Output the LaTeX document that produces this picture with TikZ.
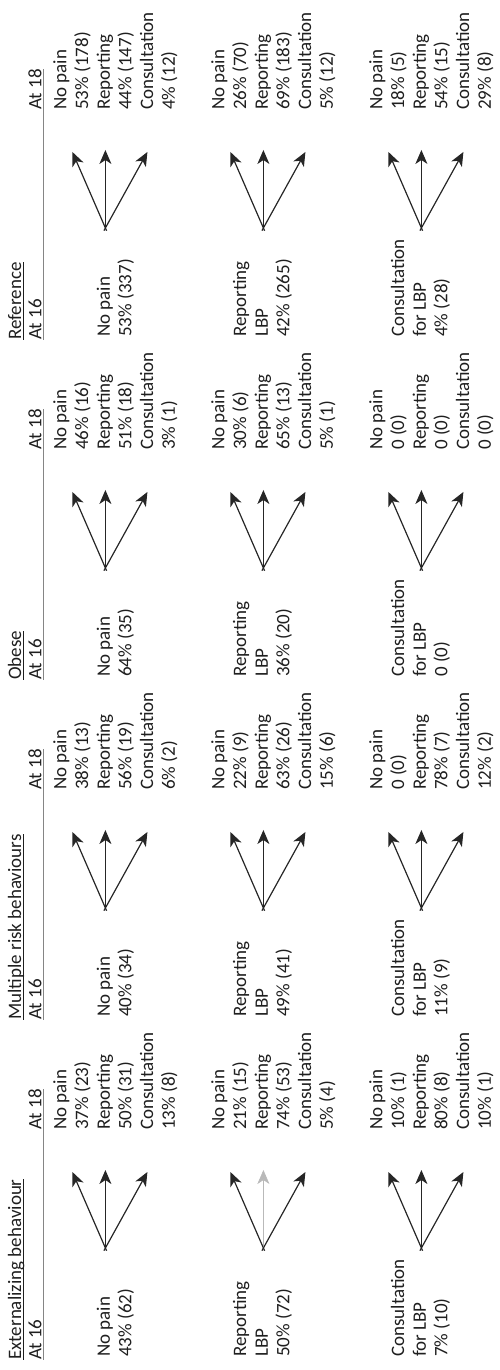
\documentclass[tikz,border=0pt]{standalone}
\usepackage{fontspec}
\setmainfont{Carlito}
\usetikzlibrary{arrows.meta,calc}

\definecolor{txt}{HTML}{1F1F1F}
\definecolor{ink}{HTML}{262626}
\definecolor{rulegray}{HTML}{858585}

\tikzset{
  lbl/.style={anchor=west, inner sep=0pt, text height=12.7pt, text depth=4pt,
              font=\fontsize{19}{22}\selectfont, text=txt},
  ttl/.style={lbl},
  hdr/.style={lbl},
  arr/.style={draw=ink, line width=1.2pt,
              -{Stealth[length=14pt,width=12pt,inset=4pt]}},
  faint/.style={draw=gray!55, line width=0.6pt},
  ul/.style={draw=txt, line width=0.9pt},
  hrule/.style={draw=rulegray, line width=1.4pt},
}

% header of one group: title, "At 16" / "At 18" and the rule below them
\newcommand\grouphead[3]{%
  \node[ttl] (#1-t) at (#2, -16.7) {#3};
  \node[hdr] (#1-16) at (#2, -37) {At 16};
  \node[hdr] (#1-18) at (#2+230, -37) {At 18};
  \draw[ul] ($(#1-t.base west)+(0,-2.3)$) -- ($(#1-t.base east)+(0,-2.3)$);
  \draw[hrule] ($(#1-16.south west)+(0,2)$) -- ($(#1-18.south east)+(0,2)$);
}

% one transition block: state at 16, three arrows, outcomes at 18
% #1 name, #2 group start, #3 first row, #4 first row of the state at 16,
% #5 state at 16, #6 outcomes at 18, #7 extra style of the middle arrow
\newcommand\tblock[7]{%
  \foreach \t [count=\k from 0] in {#6}
    \node[lbl] (#1-r\k) at (#2+230, {-(#3+21.7*\k)}) {\t};
  \foreach \t [count=\k from #4] in {#5}
    \node[lbl] (#1-s\k) at (#2+3, {-(#3+21.7*\k)}) {\t};
  \coordinate (#1-o) at (#2+112, {-(#3+43.4)});
  \coordinate (#1-a) at (#2+188, {-(#3+10.4)});
  \coordinate (#1-b) at (#2+190, {-(#3+43.4)});
  \coordinate (#1-c) at (#2+188, {-(#3+85.4)});
  \draw[arr, shorten <=-3pt] (#1-o) -- (#1-a);
  \draw[arr, #7] (#1-o) -- (#1-b);
  \draw[arr, shorten <=-3pt] (#1-o) -- (#1-c);
}

\begin{document}
\begin{tikzpicture}[x=1pt, y=1pt]
\useasboundingbox (0,0) rectangle (500,1370);
\begin{scope}[rotate=90, transform shape]

% Externalizing behaviour
\grouphead{ext}{10}{Externalizing behaviour}
\tblock{ext-a}{10}{62}{2}{No pain, 43\% (62)}
  {No pain, 37\% (23), Reporting, 50\% (31), Consultation, 13\% (8)}{}
\tblock{ext-b}{10}{220}{1}{Reporting, LBP, 50\% (72)}
  {No pain, 21\% (15), Reporting, 74\% (53), Consultation, 5\% (4)}{faint}
\tblock{ext-c}{10}{378}{1}{Consultation, for LBP, 7\% (10)}
  {No pain, 10\% (1), Reporting, 80\% (8), Consultation, 10\% (1)}{}

% Multiple risk behaviours
\grouphead{mrb}{350}{Multiple risk behaviours}
\tblock{mrb-a}{350}{62}{2}{No pain, 40\% (34)}
  {No pain, 38\% (13), Reporting, 56\% (19), Consultation, 6\% (2)}{}
\tblock{mrb-b}{350}{220}{1}{Reporting, LBP, 49\% (41)}
  {No pain, 22\% (9), Reporting, 63\% (26), Consultation, 15\% (6)}{}
\tblock{mrb-c}{350}{378}{1}{Consultation, for LBP, 11\% (9)}
  {No pain, 0 (0), Reporting, 78\% (7), Consultation, 12\% (2)}{}

% Obese
\grouphead{obs}{690}{Obese}
\tblock{obs-a}{690}{62}{2}{No pain, 64\% (35)}
  {No pain, 46\% (16), Reporting, 51\% (18), Consultation, 3\% (1)}{}
\tblock{obs-b}{690}{220}{1}{Reporting, LBP, 36\% (20)}
  {No pain, 30\% (6), Reporting, 65\% (13), Consultation, 5\% (1)}{}
\tblock{obs-c}{690}{378}{1}{Consultation, for LBP, 0 (0)}
  {No pain, 0 (0), Reporting, 0 (0), Consultation, 0 (0)}{}

% Reference
\grouphead{ref}{1030}{Reference}
\tblock{ref-a}{1030}{62}{2}{No pain, 53\% (337)}
  {No pain, 53\% (178), Reporting, 44\% (147), Consultation, 4\% (12)}{}
\tblock{ref-b}{1030}{220}{1}{Reporting, LBP, 42\% (265)}
  {No pain, 26\% (70), Reporting, 69\% (183), Consultation, 5\% (12)}{}
\tblock{ref-c}{1030}{378}{1}{Consultation, for LBP, 4\% (28)}
  {No pain, 18\% (5), Reporting, 54\% (15), Consultation, 29\% (8)}{}

\end{scope}
\end{tikzpicture}
\end{document}
